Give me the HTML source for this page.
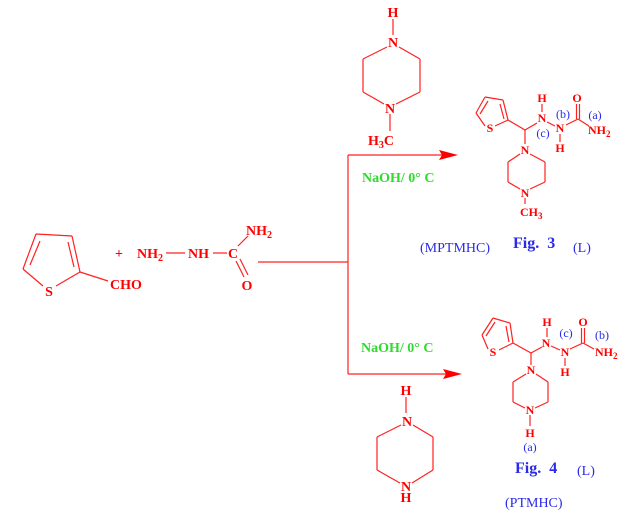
<!DOCTYPE html>
<html><head><meta charset="utf-8"><style>
html,body{margin:0;padding:0;background:#fff;}
svg{display:block;}
text{font-family:"Liberation Serif",serif;}
.r{fill:#ff0000;font-weight:bold;}
.b{fill:#2a2ae8;}
.g{fill:#2edc2e;font-weight:bold;}
</style></head><body>
<svg width="640" height="530" viewBox="0 0 640 530" xmlns="http://www.w3.org/2000/svg">
<g stroke="#ff2020" stroke-width="1.2" fill="none">
<!-- left thiophene -->
<line x1="36" y1="234" x2="72" y2="236"/>
<line x1="72" y1="236" x2="80" y2="272"/>
<line x1="68" y1="242" x2="74" y2="267"/>
<line x1="36" y1="234" x2="23" y2="269"/>
<line x1="40" y1="241" x2="30" y2="265"/>
<line x1="80" y1="272" x2="56" y2="286"/>
<line x1="43" y1="286" x2="23" y2="269"/>
<line x1="80" y1="272" x2="108" y2="281"/>
<!-- semicarbazide -->
<line x1="166" y1="253" x2="185" y2="253"/>
<line x1="213" y1="253" x2="227" y2="253"/>
<line x1="238" y1="246" x2="248" y2="236"/>
<line x1="236" y1="261" x2="244" y2="277"/>
<line x1="240" y1="259" x2="248" y2="275"/>
<!-- reaction lines -->
<line x1="258" y1="262" x2="348" y2="262"/>
<line x1="348" y1="155" x2="348" y2="374"/>
<line x1="348" y1="155" x2="442" y2="155"/>
<line x1="348" y1="374" x2="446" y2="374"/>
<!-- top piperazine -->
<line x1="393" y1="19" x2="393" y2="35"/>
<line x1="399" y1="47" x2="420" y2="59"/>
<line x1="420" y1="59" x2="420" y2="92"/>
<line x1="420" y1="92" x2="396" y2="104"/>
<line x1="384" y1="104" x2="363" y2="92"/>
<line x1="363" y1="92" x2="363" y2="59"/>
<line x1="363" y1="59" x2="387" y2="47"/>
<line x1="390" y1="114" x2="390" y2="131"/>
<!-- bottom piperazine -->
<line x1="406" y1="397" x2="406" y2="413"/>
<line x1="413" y1="425" x2="433" y2="437"/>
<line x1="433" y1="437" x2="433" y2="470"/>
<line x1="433" y1="470" x2="412" y2="483"/>
<line x1="400" y1="483" x2="377" y2="470"/>
<line x1="377" y1="470" x2="377" y2="437"/>
<line x1="377" y1="437" x2="401" y2="425"/>
<!-- product 1 -->
<line x1="476" y1="113" x2="485" y2="97"/>
<line x1="480" y1="114" x2="488" y2="101"/>
<line x1="485" y1="97" x2="503" y2="100"/>
<line x1="503" y1="100" x2="508" y2="120"/>
<line x1="500" y1="104" x2="504" y2="119"/>
<line x1="508" y1="120" x2="495" y2="126"/>
<line x1="485" y1="126" x2="476" y2="113"/>
<line x1="508" y1="120" x2="525" y2="130"/>
<line x1="525" y1="130" x2="537" y2="123"/>
<line x1="525" y1="130" x2="525" y2="144"/>
<line x1="542" y1="104" x2="542" y2="112"/>
<line x1="547" y1="122" x2="555" y2="126"/>
<line x1="560" y1="134" x2="560" y2="142"/>
<line x1="566" y1="125" x2="578" y2="119"/>
<line x1="576.5" y1="119" x2="576.5" y2="104"/>
<line x1="579.5" y1="119" x2="579.5" y2="104"/>
<line x1="578" y1="119" x2="589" y2="126"/>
<line x1="530" y1="154" x2="545" y2="162"/>
<line x1="545" y1="162" x2="545" y2="182"/>
<line x1="545" y1="182" x2="530" y2="189"/>
<line x1="520" y1="189" x2="508" y2="182"/>
<line x1="508" y1="182" x2="508" y2="162"/>
<line x1="508" y1="162" x2="520" y2="154"/>
<line x1="525" y1="198" x2="525" y2="204"/>
<!-- product 2 -->
<line x1="482" y1="335" x2="493" y2="318"/>
<line x1="486" y1="336" x2="495" y2="322"/>
<line x1="493" y1="318" x2="510" y2="323"/>
<line x1="510" y1="323" x2="513" y2="343"/>
<line x1="506" y1="326" x2="509" y2="342"/>
<line x1="513" y1="343" x2="499" y2="350"/>
<line x1="488" y1="349" x2="482" y2="335"/>
<line x1="513" y1="343" x2="531" y2="353"/>
<line x1="531" y1="353" x2="542" y2="347"/>
<line x1="531" y1="353" x2="531" y2="365"/>
<line x1="547" y1="328" x2="547" y2="337"/>
<line x1="551" y1="346" x2="560" y2="350"/>
<line x1="565" y1="358" x2="565" y2="366"/>
<line x1="570" y1="349" x2="583" y2="343"/>
<line x1="581.5" y1="343" x2="581.5" y2="328"/>
<line x1="584.5" y1="343" x2="584.5" y2="328"/>
<line x1="583" y1="343" x2="594" y2="349"/>
<line x1="536" y1="374" x2="548" y2="382"/>
<line x1="548" y1="382" x2="548" y2="402"/>
<line x1="548" y1="402" x2="535" y2="408"/>
<line x1="525" y1="408" x2="513" y2="402"/>
<line x1="513" y1="402" x2="513" y2="382"/>
<line x1="513" y1="382" x2="526" y2="374"/>
<line x1="530" y1="415" x2="530" y2="426"/>
</g>
<!-- arrowheads -->
<polygon points="458,155 439,150 442,155 439,160" fill="#ff0000"/>
<polygon points="462,374 443,369 446,374 443,379" fill="#ff0000"/>

<!-- left texts 14px -->
<g class="r" font-size="14">
<text x="49" y="296" text-anchor="middle">S</text>
<text x="110" y="289">CHO</text>
<text x="119" y="258" text-anchor="middle">+</text>
<text x="137" y="258">NH<tspan font-size="10" dy="3">2</tspan></text>
<text x="188" y="258">NH</text>
<text x="233" y="258" text-anchor="middle">C</text>
<text x="246" y="235">NH<tspan font-size="10" dy="3">2</tspan></text>
<text x="247" y="290" text-anchor="middle">O</text>
<!-- top piperazine -->
<text x="393" y="17" text-anchor="middle">H</text>
<text x="393" y="47" text-anchor="middle">N</text>
<text x="390" y="113" text-anchor="middle">N</text>
<text x="368" y="145">H<tspan font-size="10" dy="3">3</tspan><tspan dy="-3">C</tspan></text>
<!-- bottom piperazine -->
<text x="406" y="395" text-anchor="middle">H</text>
<text x="407" y="426" text-anchor="middle">N</text>
<text x="406" y="491" text-anchor="middle">N</text>
<text x="406" y="502" text-anchor="middle">H</text>
</g>

<g class="r" font-size="12">
<!-- product 1 -->
<text x="490" y="132" text-anchor="middle">S</text>
<text x="542" y="102" text-anchor="middle">H</text>
<text x="542" y="122" text-anchor="middle">N</text>
<text x="560" y="132" text-anchor="middle">N</text>
<text x="560" y="152" text-anchor="middle">H</text>
<text x="577" y="102" text-anchor="middle">O</text>
<text x="588" y="134">NH<tspan font-size="9" dy="3">2</tspan></text>
<text x="525" y="154" text-anchor="middle">N</text>
<text x="525" y="197" text-anchor="middle">N</text>
<text x="520" y="216">CH<tspan font-size="9" dy="3">3</tspan></text>
<!-- product 2 -->
<text x="493" y="356" text-anchor="middle">S</text>
<text x="547" y="326" text-anchor="middle">H</text>
<text x="546" y="347" text-anchor="middle">N</text>
<text x="565" y="356" text-anchor="middle">N</text>
<text x="565" y="376" text-anchor="middle">H</text>
<text x="583" y="326" text-anchor="middle">O</text>
<text x="595" y="356">NH<tspan font-size="9" dy="3">2</tspan></text>
<text x="531" y="374" text-anchor="middle">N</text>
<text x="530" y="414" text-anchor="middle">N</text>
<text x="530" y="437" text-anchor="middle">H</text>
</g>

<!-- blue labels -->
<g class="b" font-size="12">
<text x="563" y="118" text-anchor="middle">(b)</text>
<text x="543" y="137" text-anchor="middle">(c)</text>
<text x="595" y="119" text-anchor="middle">(a)</text>
<text x="566" y="337" text-anchor="middle">(c)</text>
<text x="602" y="339" text-anchor="middle">(b)</text>
<text x="530" y="451" text-anchor="middle">(a)</text>
</g>
<g class="b" font-size="14">
<text x="420" y="252">(MPTMHC)</text>
<text x="573" y="252">(L)</text>
<text x="577" y="475">(L)</text>
<text x="505" y="507">(PTMHC)</text>
</g>
<g class="b" font-size="16" font-weight="bold">
<text x="513" y="248" xml:space="preserve">Fig.  3</text>
<text x="515" y="473" xml:space="preserve">Fig.  4</text>
</g>

<!-- green conditions -->
<g class="g" font-size="14">
<text x="362" y="182">NaOH/ 0° C</text>
<text x="361" y="352">NaOH/ 0° C</text>
</g>
</svg>
</body></html>
